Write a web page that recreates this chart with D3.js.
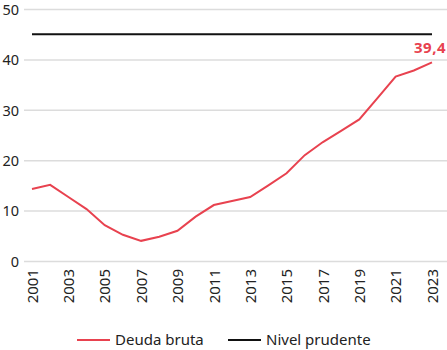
<!DOCTYPE html>
<html>
<head>
<meta charset="utf-8">
<script src="https://cdn.jsdelivr.net/npm/d3@7"></script>
<style>
  body { margin: 0; background: #fff; }
  svg text { font-family: "Noto Sans", sans-serif; fill: #222; }
</style>
</head>
<body>
<div id="chart"></div>
<script>
// years and gross debt (% of GDP)
const years = d3.range(2001, 2024)
const deudaBruta = [14.3, 15.1, 12.7, 10.3, 7.1, 5.2, 4.0, 4.8, 6.0, 8.8, 11.1, 11.9, 12.7, 15.0, 17.4,
  21.0, 23.6, 25.8, 28.1, 32.3, 36.6, 37.8, 39.4]
const nivelPrudente = 45
const yTicks = [0, 10, 20, 30, 40, 50]
const xTicks = d3.range(2001, 2024, 2)
const lastLabel = "39,4"

var width = 447, height = 350
var margin = {top: 9, right: 15, bottom: 89, left: 32}

var svg = d3.select("#chart")
  .append("svg")
    .attr("width", width)
    .attr("height", height)

var x = d3.scaleLinear()
  .domain([2001, 2023])
  .range([margin.left, width - margin.right])

var y = d3.scaleLinear()
  .domain([0, 50])
  .range([height - margin.bottom, margin.top])

// gridlines + y labels
var yAxis = svg.append("g")
  .attr("transform", "translate(24,0)")
  .call(d3.axisRight(y).tickValues(yTicks).tickSize(width - 24).tickFormat(d3.format("d")))
yAxis.select(".domain").remove()
yAxis.selectAll(".tick line").attr("stroke", "#dcdcdc").attr("stroke-width", 1.5)
yAxis.selectAll(".tick text")
  .attr("x", -5)
  .attr("dy", "0.36em")
  .attr("text-anchor", "end")
  .style("font-size", "14.5px")

// x axis labels, rotated
var xAxis = svg.append("g")
  .attr("transform", "translate(0," + (height - margin.bottom) + ")")
  .call(d3.axisBottom(x).tickValues(xTicks).tickSize(0).tickFormat(d3.format("d")))
xAxis.select(".domain").remove()
xAxis.selectAll(".tick text")
  .attr("transform", "rotate(-90)")
  .attr("x", -8)
  .attr("y", 0)
  .attr("dy", "0.35em")
  .attr("text-anchor", "end")
  .style("font-size", "15px")

// prudent level
svg.append("line")
  .attr("x1", x(2001))
  .attr("x2", x(2023))
  .attr("y1", y(nivelPrudente))
  .attr("y2", y(nivelPrudente))
  .attr("stroke", "#111")
  .attr("stroke-width", 2)

// debt line
var line = d3.line()
  .x(function(d, i) { return x(years[i]) })
  .y(function(d) { return y(d) })

svg.append("path")
  .datum(deudaBruta)
  .attr("d", line)
  .attr("fill", "none")
  .attr("stroke", "#e8424f")
  .attr("stroke-width", 2)

svg.append("text")
  .attr("x", width - 1)
  .attr("y", y(deudaBruta[deudaBruta.length - 1]) - 9)
  .attr("text-anchor", "end")
  .style("font-size", "15px")
  .style("font-weight", "bold")
  .style("letter-spacing", "0.5px")
  .style("fill", "#e8424f")
  .text(lastLabel)

// legend
var legend = [
  {name: "Deuda bruta", color: "#e8424f", x: 77},
  {name: "Nivel prudente", color: "#111", x: 228}
]
var lg = svg.selectAll(".legend")
  .data(legend).enter()
  .append("g")
  .attr("transform", function(d) { return "translate(" + d.x + ",340)" })
lg.append("line")
  .attr("x2", 33)
  .attr("stroke", function(d) { return d.color })
  .attr("stroke-width", 2)
lg.append("text")
  .attr("x", 38)
  .attr("dy", "0.35em")
  .style("font-size", "15px")
  .text(function(d) { return d.name })
</script>
</body>
</html>
